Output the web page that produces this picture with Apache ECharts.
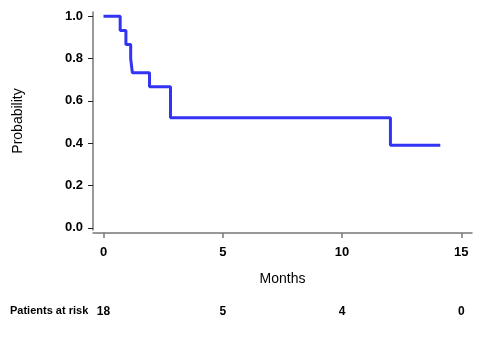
<!DOCTYPE html>
<html><head><meta charset="utf-8">
<script src="https://cdn.jsdelivr.net/npm/echarts@6/dist/echarts.min.js"></script>
<style>html,body{margin:0;padding:0;background:#fff}#c{width:481px;height:337px}</style>
</head><body><div id="c"></div>
<script>
var times = [0, 0.70, 0.94, 1.14, 1.21, 1.93, 2.81, 12.03, 14.12];
var survival = [1.0, 0.933, 0.867, 0.80, 0.733, 0.667, 0.52, 0.39, 0.39];
var xTicks = [0, 5, 10, 15];
var yTicks = [0, 0.2, 0.4, 0.6, 0.8, 1.0];
var atRisk = [18, 5, 4, 0];
var riskLabel = 'Patients at risk';
var xName = 'Months';
var yName = 'Probability';

var font = 'Liberation Sans, Arial, sans-serif';
var chart = echarts.init(document.getElementById('c'));
var pts = times.map(function(t, i){ return [t, survival[i]]; });
var riskMap = {};
xTicks.forEach(function(t, i){ riskMap[t] = atRisk[i]; });

chart.setOption({
  animation: false,
  grid: {left: 93, right: 9, top: 12, bottom: 107},
  xAxis: [{
    type: 'value', min: -0.44, max: 15.45, interval: 5,
    position: 'bottom', offset: 3,
    axisLine: {onZero: false, lineStyle: {color: '#777', width: 1.5}},
    axisTick: {show: true, length: 5, lineStyle: {color: '#777', width: 1.5},
      customValues: xTicks},
    axisLabel: {color: '#000', fontFamily: font, fontSize: 13, fontWeight: 'bold', margin: 13,
      customValues: xTicks},
    splitLine: {show: false},
    name: xName, nameLocation: 'middle', nameGap: 39,
    nameTextStyle: {color: '#000', fontFamily: font, fontSize: 14}
  }, {
    type: 'value', min: -0.44, max: 15.45, interval: 5,
    position: 'bottom', offset: 68,
    axisLine: {show: false}, axisTick: {show: false}, splitLine: {show: false},
    axisLabel: {color: '#000', fontFamily: font, fontSize: 12, fontWeight: 'bold',
      customValues: xTicks,
      formatter: function(v){ return riskMap[v] !== undefined ? String(riskMap[v]) : ''; }}
  }],
  yAxis: {
    type: 'value', min: -0.01, max: 1.02,
    axisLine: {show: true, onZero: false, lineStyle: {color: '#777', width: 1.5}},
    axisTick: {show: true, length: 5, lineStyle: {color: '#222', width: 1},
      customValues: yTicks},
    axisLabel: {color: '#000', fontFamily: font, fontSize: 13, fontWeight: 'bold', margin: 10,
      customValues: yTicks,
      formatter: function(v){ return v.toFixed(1); }},
    splitLine: {show: false},
    name: yName, nameLocation: 'middle', nameGap: 68, nameRotate: 90,
    nameTextStyle: {color: '#000', fontFamily: font, fontSize: 14}
  },
  graphic: [{
    type: 'text', left: 10, top: 305,
    style: {text: riskLabel, fill: '#000', font: 'bold 11px ' + font}
  }],
  series: [{
    type: 'line', step: 'end', data: pts, xAxisIndex: 0,
    showSymbol: false, symbol: 'none',
    lineStyle: {color: '#3333f5', width: 3}
  }]
});
</script></body></html>
